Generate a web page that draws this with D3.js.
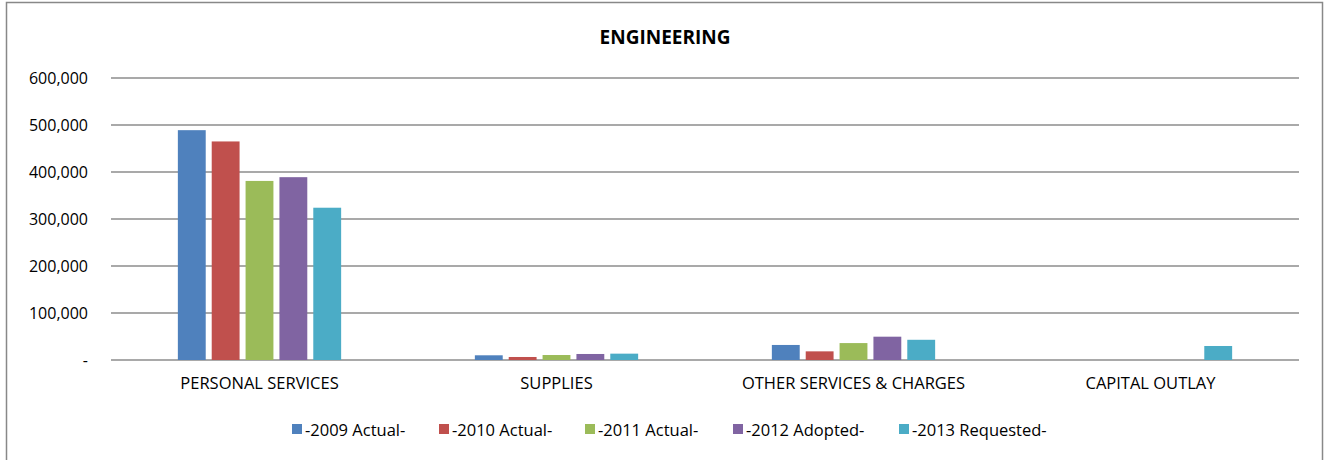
<!DOCTYPE html>
<html>
<head>
<meta charset="utf-8">
<script src="https://cdn.jsdelivr.net/npm/d3@7"></script>
<style>
  body { margin: 0; background: #fff; }
  svg text { font-family: "Open Sans", sans-serif; fill: #000; }
</style>
</head>
<body>
<div id="chart"></div>
<script>
// chart data
const categories = ["PERSONAL SERVICES", "SUPPLIES", "OTHER SERVICES & CHARGES", "CAPITAL OUTLAY"];
const seriesNames = ["-2009 Actual-", "-2010 Actual-", "-2011 Actual-", "-2012 Adopted-", "-2013 Requested-"];
const colors = ["#4f81bd", "#c0504d", "#9bbb59", "#8064a2", "#4bacc6"];
const values2009 = [489000, 10000, 32000, 0];
const values2010 = [465000, 6400, 18400, 0];
const values2011 = [381000, 10600, 36000, 0];
const values2012 = [389000, 12800, 49600, 0];
const values2013 = [324000, 13500, 43000, 29800];
const yTicks = [0, 100000, 200000, 300000, 400000, 500000, 600000];

const allSeries = [values2009, values2010, values2011, values2012, values2013];

const width = 1325, height = 460;
const margin = {left: 111, right: 26, top: 78, bottom: 100};

const svg = d3.select("#chart").append("svg")
    .attr("width", width)
    .attr("height", height);

// frame
svg.append("rect")
    .attr("x", 6.5).attr("y", 2.5)
    .attr("width", 1316).attr("height", 470)
    .attr("fill", "none")
    .attr("stroke", "#888")
    .attr("stroke-width", 1.5);

svg.append("text")
    .attr("x", 665).attr("y", 44)
    .attr("text-anchor", "middle")
    .style("font-size", "19px")
    .style("font-weight", "bold")
    .text("ENGINEERING");

let x = d3.scaleBand()
    .domain(categories)
    .range([margin.left, width - margin.right]);

let y = d3.scaleLinear()
    .domain([0, 600000])
    .range([height - margin.bottom, margin.top]);

let slot = x.bandwidth() * 0.114;
let xInner = d3.scaleBand()
    .domain(d3.range(seriesNames.length))
    .range([(x.bandwidth() - slot * 5) / 2, (x.bandwidth() + slot * 5) / 2]);

// gridlines
svg.append("g").selectAll("line")
    .data(yTicks).enter()
    .append("line")
    .attr("x1", margin.left)
    .attr("x2", width - margin.right)
    .attr("y1", d => y(d))
    .attr("y2", d => y(d))
    .attr("stroke", "#8c8c8c")
    .attr("stroke-width", 1.5);

// y labels
svg.append("g").selectAll("text")
    .data(yTicks).enter()
    .append("text")
    .attr("x", 88)
    .attr("y", d => y(d) + 6)
    .attr("text-anchor", "end")
    .style("font-size", "16px")
    .text(d => d === 0 ? "-" : d3.format(",")(d));

// bars
let groups = svg.append("g").selectAll("g")
    .data(categories).enter()
    .append("g")
    .attr("transform", d => "translate(" + x(d) + ",0)");

groups.selectAll("rect")
    .data((c, ci) => allSeries.map((s, si) => ({si: si, v: s[ci]})))
    .enter()
    .append("rect")
    .attr("x", d => xInner(d.si) + 3)
    .attr("width", xInner.bandwidth() - 6)
    .attr("y", d => y(d.v))
    .attr("height", d => y(0) - y(d.v))
    .attr("fill", d => colors[d.si]);

// category labels
svg.append("g").selectAll("text")
    .data(categories).enter()
    .append("text")
    .attr("x", d => x(d) + x.bandwidth() / 2)
    .attr("y", 389)
    .attr("text-anchor", "middle")
    .style("font-size", "16.5px")
    .text(d => d);

// legend
let legendX = [292, 439, 585, 733, 899];
let legend = svg.append("g").selectAll("g")
    .data(seriesNames).enter()
    .append("g")
    .attr("transform", (d, i) => "translate(" + legendX[i] + ",424)");

legend.append("rect")
    .attr("x", 0).attr("y", 0)
    .attr("width", 10).attr("height", 10)
    .attr("fill", (d, i) => colors[i]);

legend.append("text")
    .attr("x", 13).attr("y", 12)
    .style("font-size", "16.5px")
    .text(d => d);
</script>
</body>
</html>
